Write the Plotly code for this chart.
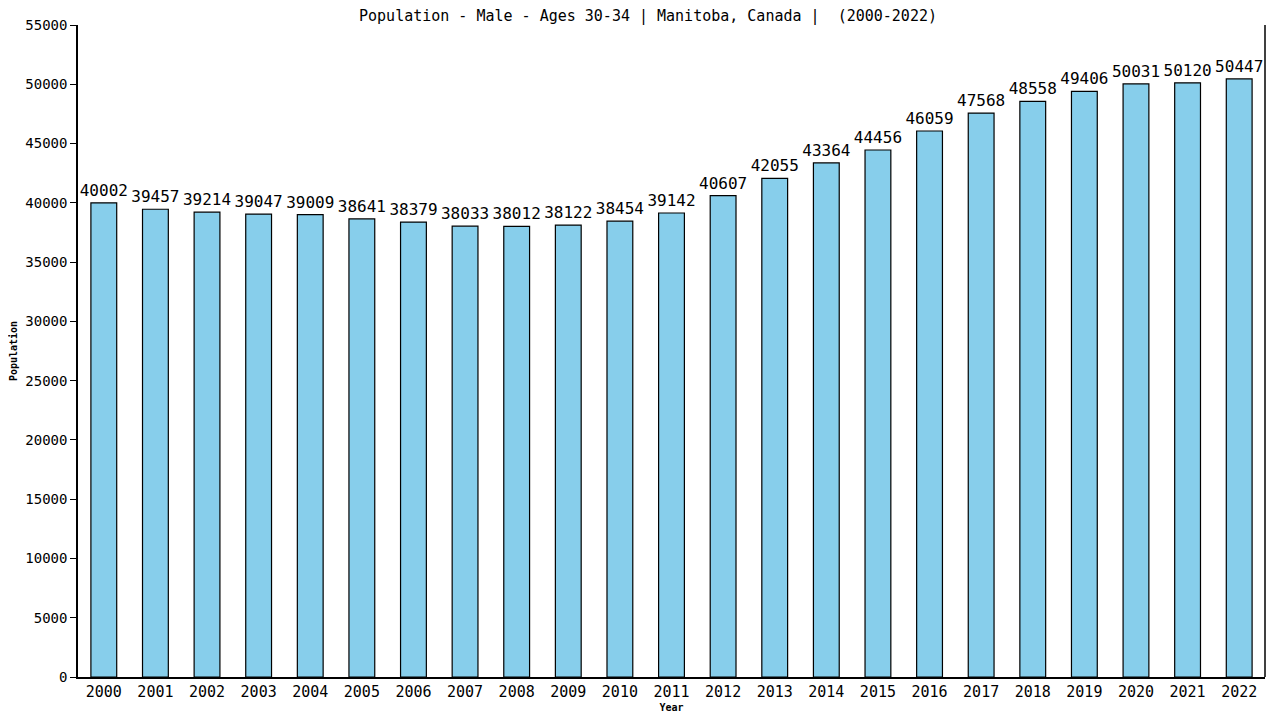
import plotly.graph_objects as go

years = [str(y) for y in range(2000, 2023)]
population = [40002, 39457, 39214, 39047, 39009, 38641, 38379, 38033, 38012, 38122,
              38454, 39142, 40607, 42055, 43364, 44456, 46059, 47568, 48558, 49406,
              50031, 50120, 50447]

font_mono = "DejaVu Sans Mono, monospace"

fig = go.Figure(go.Bar(
    x=years, y=population,
    text=[str(v) for v in population],
    textposition="outside",
    constraintext="none",
    textfont=dict(family=font_mono, size=16, color="black"),
    cliponaxis=False,
    marker=dict(color="#87CEEB", line=dict(color="black", width=1.2)),
))

# page body adds an 8px offset, so margins are shifted accordingly
fig.update_layout(
    width=1280, height=720,
    plot_bgcolor="white", paper_bgcolor="white",
    margin=dict(l=70, r=23, t=17, b=51),
    bargap=0.5,
    showlegend=False,
    font=dict(family=font_mono, size=14, color="black"),
    title=dict(text="Population - Male - Ages 30-34 | Manitoba, Canada |  (2000-2022)",
               x=0.5, y=0.989, yanchor="middle", xanchor="center",
               font=dict(family=font_mono, size=15, color="black")),
)
fig.update_xaxes(
    title=dict(text="<b>Year</b>", font=dict(size=10), standoff=4),
    showline=True, linecolor="black", linewidth=1.5, automargin=False,
    ticks="", tickfont=dict(size=15),
)
fig.update_yaxes(
    title=dict(text="<b>Population</b>", font=dict(size=10), standoff=6),
    range=[0, 55000], dtick=5000, tickformat="d", automargin=False,
    showline=True, linecolor="black", linewidth=1.5,
    ticks="outside", ticklen=6, tickcolor="black",
    showgrid=False, zeroline=False, tickfont=dict(size=14),
)
# right border line of plot frame
fig.add_shape(type="line", xref="paper", yref="paper", x0=1, x1=1, y0=0, y1=1,
              line=dict(color="black", width=1.5))

fig.write_html("out.html")
